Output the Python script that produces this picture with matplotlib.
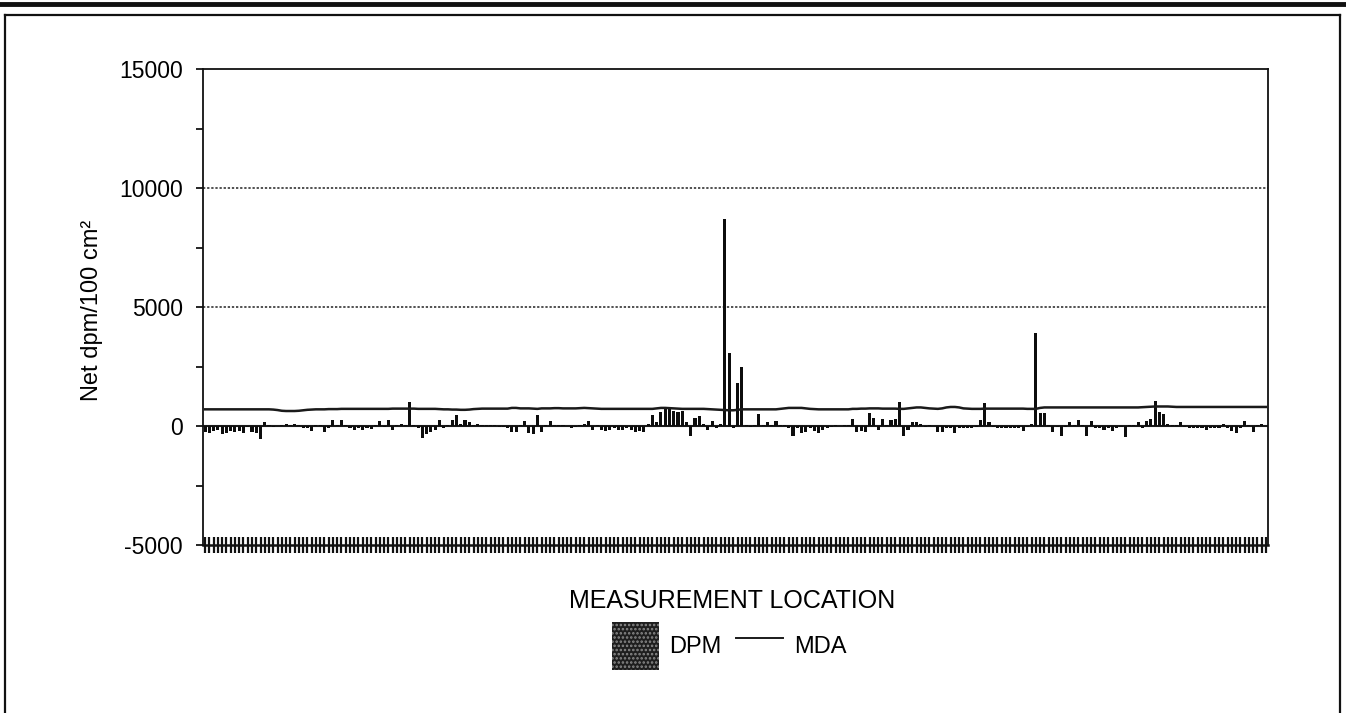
import matplotlib
matplotlib.use("Agg")
import matplotlib.pyplot as plt
import numpy as np
from matplotlib.lines import Line2D
from matplotlib.patches import Patch

plt.rcParams["font.family"] = ["Liberation Sans", "DejaVu Sans"]
plt.rcParams["axes.unicode_minus"] = False
plt.rcParams["hatch.linewidth"] = 1.2

# Net activity per measurement location (dpm/100 cm2)
dpm = [
    -250, -300, -200, -150, -350, -300, -200, -250, -200, -300,
    -50, -250, -300, -550, 150, 40, -30, 20, 60, 90,
    40, 100, 50, -80, -100, -200, 40, 50, -250, -80,
    250, 60, 250, 50, -100, -150, -100, -150, -100, -120,
    30, 200, -50, 250, -150, 30, 80, 40, 1000, 50,
    -100, -500, -350, -250, -150, 250, -100, 60, 250, 450,
    100, 250, 150, 50, 100, 60, 50, 60, 30, -50,
    -50, -100, -250, -250, 50, 200, -300, -350, 450, -250,
    50, 200, 30, 50, 30, 20, -80, -30, 50, 100,
    200, -150, 30, -150, -200, -150, -100, -150, -150, -100,
    -150, -250, -200, -250, 100, 450, 150, 600, 700, 700,
    650, 600, 650, 150, -400, 350, 400, 80, -150, 200,
    -100, 100, 8700, 3050, -100, 1800, 2500, 50, -50, 30,
    500, 30, 150, 30, 200, 30, 30, -80, -400, -80,
    -300, -250, -100, -200, -300, -150, -100, -50, 30, 20,
    40, 50, 300, -250, -200, -250, 550, 350, -150, 300,
    50, 250, 300, 1000, -400, -150, 150, 150, 100, -50,
    30, 20, -250, -250, -100, -100, -300, -100, -100, -80,
    -100, -60, 250, 950, 150, -50, -100, -80, -100, -100,
    -80, -100, -200, -50, 100, 3900, 550, 550, 30, -250,
    -50, -400, -50, 150, 30, 250, 50, -400, 200, -100,
    -100, -150, -100, -200, -100, -30, -450, 30, 50, 150,
    -100, 200, 300, 1050, 600, 500, 100, 50, 30, 150,
    -50, -100, -80, -100, -100, -150, -80, -100, -80, 100,
    -100, -200, -300, -100, 200, 50, -250, 30, 100, 20,
]

# Minimum detectable activity at each location
mda = [
    700, 700, 700, 700, 700, 700, 700, 700, 700, 700,
    700, 700, 700, 700, 700, 700, 690, 670, 640, 630,
    630, 630, 640, 660, 680, 690, 700, 700, 700, 710,
    710, 710, 720, 720, 720, 720, 720, 720, 720, 720,
    720, 720, 720, 720, 730, 730, 730, 730, 730, 730,
    720, 720, 720, 720, 720, 710, 700, 700, 690, 690,
    680, 680, 690, 710, 720, 730, 730, 730, 730, 730,
    730, 730, 760, 760, 740, 740, 740, 730, 720, 740,
    740, 740, 750, 750, 740, 740, 740, 740, 750, 760,
    750, 740, 730, 720, 720, 720, 720, 720, 720, 720,
    720, 720, 720, 720, 720, 720, 740, 760, 760, 750,
    740, 730, 720, 720, 720, 720, 720, 720, 710, 700,
    690, 680, 670, 660, 660, 680, 700, 700, 700, 700,
    700, 700, 700, 700, 700, 720, 740, 760, 760, 760,
    760, 740, 720, 710, 700, 700, 700, 700, 700, 700,
    700, 700, 720, 720, 730, 730, 740, 740, 740, 730,
    730, 730, 730, 720, 720, 740, 760, 780, 780, 760,
    740, 730, 720, 740, 780, 800, 800, 780, 740, 730,
    720, 720, 720, 730, 730, 730, 730, 730, 730, 730,
    730, 730, 730, 720, 720, 720, 760, 780, 780, 780,
    780, 780, 780, 780, 780, 780, 780, 780, 780, 780,
    780, 780, 780, 780, 780, 780, 780, 780, 780, 780,
    790, 800, 810, 820, 820, 820, 820, 810, 800, 800,
    800, 800, 800, 800, 800, 800, 800, 800, 800, 800,
    800, 800, 800, 800, 800, 800, 800, 800, 800, 800,
]

y_ticks = [-5000, 0, 5000, 10000, 15000]
y_minor = [-2500, 2500, 7500, 12500]
grid_levels = [5000, 10000]

W, H = 1346, 713
fig = plt.figure(figsize=(W / 100, H / 100), dpi=100)
ax = fig.add_axes([203 / W, 1 - 545 / H, (1268 - 203) / W, (545 - 69) / H])

x = np.arange(len(dpm))
ax.bar(x, dpm, width=0.72, color="#0d0d0d", linewidth=0, zorder=3)
ax.plot(x, mda, color="#1a1a1a", lw=1.8, zorder=4)
ax.axhline(0, color="#1a1a1a", lw=1.5, zorder=2)
for g in grid_levels:
    ax.axhline(g, color="#222222", lw=1.1, ls=(0, (1.5, 1.2)), zorder=1)

ax.set_xlim(-0.5, len(dpm) - 0.5)
ax.set_ylim(-5000, 15000)
ax.set_yticks(y_ticks)
ax.set_yticks(y_minor, minor=True)
ax.set_yticklabels([str(v) for v in y_ticks], fontsize=16.5)
ax.tick_params(axis="y", which="both", direction="out", length=5, width=1.2, pad=9.5)

ax.set_xticks(x)
ax.set_xticklabels([])
ax.tick_params(axis="x", which="major", direction="inout", length=11, width=1.6, color="#111111")

for s in ax.spines.values():
    s.set_linewidth(1.3)
    s.set_color("#111111")
ax.spines["bottom"].set_linewidth(1.8)

fig.text(92 / W, 1 - 310 / H, "Net dpm/100 cm²", rotation=90, fontsize=17,
         ha="center", va="center")
fig.text(732 / W, 1 - 601 / H, "MEASUREMENT LOCATION", fontsize=18,
         ha="center", va="center")

handles = [
    Patch(facecolor="#1e1e1e", edgecolor="#8a8a8a", linewidth=0, hatch="...."),
    Line2D([0], [0], color="#1a1a1a", lw=1.4),
]
fig.legend(handles, ["DPM", "MDA"], loc="center", bbox_to_anchor=(729 / W, 1 - 646 / H),
           ncol=2, frameon=False, fontsize=17, handlelength=2.0, handleheight=2.7,
           handletextpad=0.45, columnspacing=0.6)

# page frame
fig.add_artist(Line2D([0, 1], [1 - 4 / H] * 2, color="#111111", lw=3.5))
fig.add_artist(Line2D([5 / W, 1340 / W], [1 - 15 / H] * 2, color="#111111", lw=1.6))
fig.add_artist(Line2D([5 / W, 5 / W], [0, 1 - 15 / H], color="#111111", lw=1.6))
fig.add_artist(Line2D([1340 / W, 1340 / W], [0, 1 - 15 / H], color="#111111", lw=1.6))

fig.savefig("out.png", dpi=100)
